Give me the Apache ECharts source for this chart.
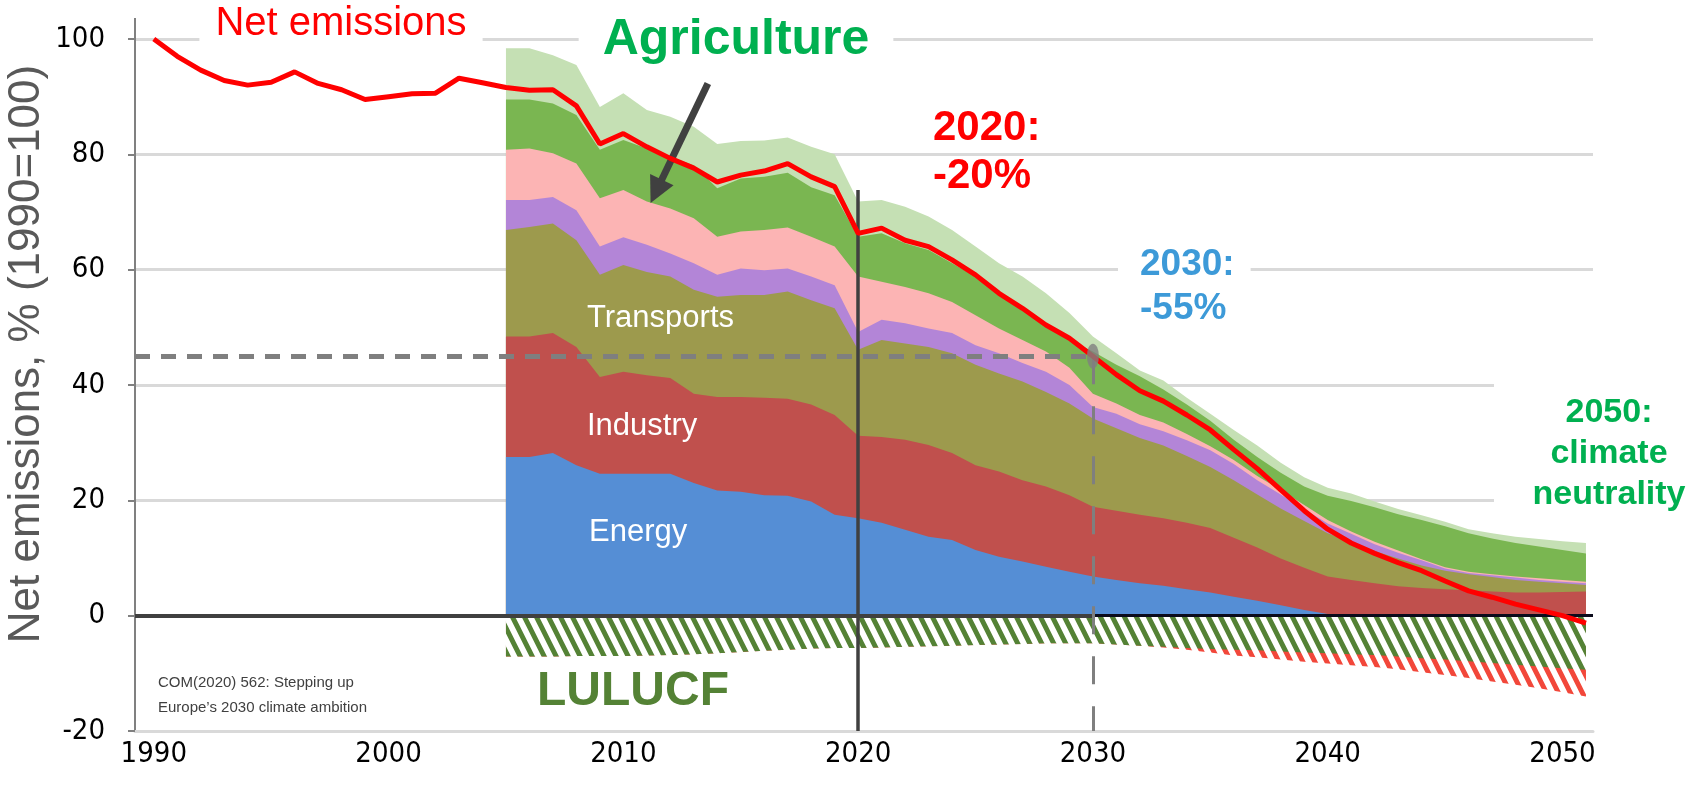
<!DOCTYPE html>
<html>
<head>
<meta charset="utf-8">
<style>
  html, body { margin: 0; padding: 0; background: #fff; }
  #chart { width: 1691px; height: 802px; }
</style>
<script src="https://cdn.jsdelivr.net/npm/echarts@6/dist/echarts.min.js"></script>
</head>
<body>
<div id="chart"></div>
<script>
// ---------- DATA ----------

// net emissions, % of 1990
const netYears = [
  1990, 1991, 1992, 1993, 1994, 1995, 1996, 1997, 1998, 1999,
  2000, 2001, 2002, 2003, 2004, 2005, 2006, 2007, 2008, 2009,
  2010, 2011, 2012, 2013, 2014, 2015, 2016, 2017, 2018, 2019,
  2020, 2021, 2022, 2023, 2024, 2025, 2026, 2027, 2028, 2029,
  2030, 2031, 2032, 2033, 2034, 2035, 2036, 2037, 2038, 2039,
  2040, 2041, 2042, 2043, 2044, 2045, 2046, 2047, 2048, 2049,
  2050, 2051
];
const netEmissions = [
  100, 97.0, 94.6, 92.8, 92.0, 92.5, 94.3, 92.3, 91.2, 89.5,
  90.0, 90.5, 90.6, 93.2, 92.4, 91.6, 91.1, 91.2, 88.4, 81.8,
  83.6, 81.3, 79.3, 77.6, 75.2, 76.4, 77.1, 78.4, 76.1, 74.4,
  66.3, 67.2, 65.1, 64.0, 61.7, 59.1, 55.9, 53.3, 50.4, 48.1,
  45.0, 41.8, 39.0, 37.2, 34.8, 32.2, 28.8, 25.5, 21.8, 18.2,
  15.0, 12.6, 10.8, 9.2, 7.8, 6.0, 4.3, 3.2, 2.0, 1.0,
  0.0, -1.3
];

// sector stack, upper edge of each layer (cumulative)
const sectorYears = [
  2005, 2006, 2007, 2008, 2009, 2010, 2011, 2012, 2013, 2014,
  2015, 2016, 2017, 2018, 2019, 2020, 2021, 2022, 2023, 2024,
  2025, 2026, 2027, 2028, 2029, 2030, 2031, 2032, 2033, 2034,
  2035, 2036, 2037, 2038, 2039, 2040, 2041, 2042, 2043, 2044,
  2045, 2046, 2047, 2048, 2049, 2050, 2051
];
const energyTop = [
  27.5, 27.5, 28.2, 26.1, 24.6, 24.6, 24.6, 24.6, 23.0, 21.7,
  21.5, 20.9, 20.8, 19.8, 17.5, 16.9, 16.1, 14.9, 13.7, 13.1,
  11.4, 10.2, 9.4, 8.5, 7.6, 6.8, 6.2, 5.6, 5.2, 4.6,
  4.0, 3.3, 2.6, 1.8, 1.0, 0.3, 0.2, 0.2, 0.2, 0.2,
  0.2, 0.2, 0.2, 0.2, 0.2, 0.2, 0.2
];
const industryTop = [
  48.4, 48.4, 49.0, 46.6, 41.4, 42.3, 41.7, 41.2, 38.5, 37.9,
  37.9, 37.8, 37.6, 36.6, 34.8, 31.2, 31.0, 30.5, 29.6, 28.2,
  26.1, 25.0, 23.5, 22.4, 20.9, 18.9, 18.2, 17.5, 16.9, 16.1,
  15.2, 13.5, 11.8, 9.9, 8.3, 6.8, 6.2, 5.6, 5.1, 4.8,
  4.6, 4.4, 4.2, 4.0, 4.0, 4.1, 4.2
];
const transportTop = [
  66.9, 67.4, 68.0, 65.1, 59.1, 60.8, 59.6, 58.8, 56.5, 55.3,
  55.6, 55.6, 56.2, 54.7, 53.3, 46.1, 47.8, 47.2, 46.6, 45.5,
  43.5, 42.0, 40.6, 38.8, 36.8, 34.2, 32.5, 30.8, 29.5, 27.7,
  25.8, 23.5, 21.0, 18.6, 16.4, 14.3, 12.8, 11.2, 9.9, 8.7,
  7.8, 7.2, 6.7, 6.2, 5.9, 5.6, 5.3
];
const residentialTop = [
  72.1, 72.1, 72.6, 70.3, 64.0, 65.6, 64.3, 62.8, 61.1, 59.1,
  60.2, 59.9, 60.2, 58.8, 57.3, 49.2, 51.3, 50.7, 49.8, 49.0,
  46.9, 45.5, 43.8, 42.3, 40.0, 36.2, 35.0, 33.2, 32.0, 30.4,
  28.7, 26.3, 23.5, 21.0, 18.5, 16.0, 14.2, 12.4, 10.9, 9.6,
  8.2, 7.4, 7.0, 6.6, 6.2, 5.9, 5.6
];
const tertiaryTop = [
  80.8, 81.0, 80.2, 78.4, 72.4, 73.8, 71.8, 70.6, 68.9, 65.7,
  66.6, 66.9, 67.3, 65.7, 64.0, 58.8, 57.9, 57.0, 55.9, 54.4,
  52.1, 49.8, 47.8, 45.8, 43.0, 38.5, 36.8, 34.8, 33.5, 31.5,
  29.4, 27.0, 24.2, 21.8, 19.2, 16.6, 14.6, 12.8, 11.3, 9.8,
  8.4, 7.6, 7.2, 6.8, 6.5, 6.2, 5.9
];
const agricultureTop = [
  89.5, 89.5, 88.8, 86.8, 80.8, 82.5, 81.0, 79.6, 78.1, 74.1,
  75.8, 76.1, 76.8, 74.3, 72.9, 65.7, 66.3, 64.6, 63.4, 61.1,
  58.8, 55.6, 53.0, 50.1, 47.8, 45.8, 43.5, 41.5, 39.2, 36.6,
  33.8, 30.5, 27.5, 24.8, 22.4, 20.8, 19.9, 18.8, 17.6, 16.6,
  15.5, 14.3, 13.4, 12.6, 12.0, 11.4, 10.8
];
const otherTop = [
  98.4, 98.4, 97.2, 95.5, 88.2, 90.6, 87.7, 86.5, 84.8, 81.8,
  82.3, 82.4, 82.9, 81.3, 80.0, 71.8, 72.1, 70.9, 69.2, 66.9,
  64.0, 61.1, 58.8, 55.9, 52.5, 48.4, 45.5, 42.5, 40.8, 37.8,
  35.0, 32.2, 29.5, 26.5, 24.0, 22.2, 21.2, 19.8, 18.5, 17.4,
  16.3, 15.0, 14.3, 13.7, 13.3, 12.9, 12.6
];

// LULUCF sink, lower edges (negative)
const lulucfBottom = [
  -7.1, -7.1, -7.1, -7.0, -7.0, -7.0, -6.9, -6.8, -6.7, -6.5,
  -6.3, -6.1, -5.9, -5.7, -5.6, -5.6, -5.5, -5.4, -5.3, -5.2,
  -5.1, -5.0, -4.9, -4.8, -4.8, -4.8, -5.0, -5.2, -5.4, -5.6,
  -5.8, -5.9, -6.0, -6.2, -6.4, -6.5, -6.7, -6.8, -7.1, -7.4,
  -7.6, -7.9, -8.2, -8.5, -8.8, -9.1, -9.4
];
const lulucfExtraBottom = [
  -7.1, -7.1, -7.1, -7.0, -7.0, -7.0, -6.9, -6.8, -6.7, -6.5,
  -6.3, -6.1, -5.9, -5.7, -5.6, -5.6, -5.5, -5.4, -5.3, -5.2,
  -5.1, -5.0, -4.9, -4.8, -4.8, -4.8, -5.0, -5.2, -5.5, -5.9,
  -6.4, -6.9, -7.2, -7.6, -8.0, -8.3, -8.6, -8.9, -9.3, -9.8,
  -10.3, -10.8, -11.4, -12.0, -12.6, -13.3, -14.0
];

const xTickLabels = [1990, 2000, 2010, 2020, 2030, 2040, 2050];
const target2030 = 45;


// ---------- HELPERS ----------

const SANS = '"Liberation Sans", Arial, sans-serif';
const NARROW = '"DejaVu Sans Condensed", "Liberation Sans", sans-serif';

// steep "\" stripes, 12px apart horizontally
function hatch(color) {
	const w = 12, h = 24;
	const c = document.createElement('canvas');
	c.width = w;
	c.height = h;
	const g = c.getContext('2d');
	g.fillStyle = '#ffffff';
	g.fillRect(0, 0, w, h);
	g.strokeStyle = color;
	g.lineWidth = 5;
	g.beginPath();
	for (let k = -1; k <= 1; k++) {
		g.moveTo(k * w - 2, -4);
		g.lineTo(k * w + 14, 28);
	}
	g.stroke();
	return c;
}

// every layer is its cumulative edge filled down (or up) to zero,
// drawn from the outermost layer inwards so the inner ones sit on top
function edgeSeries(name, edge, fill) {
	return {
		name: name,
		type: 'line',
		symbol: 'none',
		z: 2,
		silent: true,
		lineStyle: { width: 0 },
		areaStyle: { color: fill, opacity: 1, origin: 'auto' },
		data: sectorYears.map((y, i) => [y, edge[i]])
	};
}


// ---------- CHART ----------

const chart = echarts.init(document.getElementById('chart'));

let series = [
	edgeSeries('Other non-CO2', otherTop, '#c5e0b4'),
	edgeSeries('Agriculture', agricultureTop, '#7ab651'),
	edgeSeries('Tertiary', tertiaryTop, '#fcb4b4'),
	edgeSeries('Residential', residentialTop, '#b385d7'),
	edgeSeries('Transports', transportTop, '#9d9a4d'),
	edgeSeries('Industry', industryTop, '#c0504d'),
	edgeSeries('Energy', energyTop, '#558ed5'),
	edgeSeries('LULUCF extra', lulucfExtraBottom, { image: hatch('#f2473a'), repeat: 'repeat' }),
	edgeSeries('LULUCF', lulucfBottom, { image: hatch('#548235'), repeat: 'repeat' })
];

// zero line, under the red line
series.push({
	type: 'line',
	data: [],
	z: 4,
	silent: true,
	markLine: {
		silent: true,
		symbol: ['none', 'none'],
		label: { show: false },
		data: [
			[{ coord: [1989.2, 0], lineStyle: { color: '#404040', width: 4, type: 'solid' } }, { coord: [2030, 0] }],
			[{ coord: [2030, 0], lineStyle: { color: '#0b0b1c', width: 3, type: 'solid' } }, { coord: [2051.3, 0] }]
		]
	}
});

series.push({
	name: 'Net emissions',
	type: 'line',
	symbol: 'none',
	z: 6,
	lineStyle: { color: '#ff0000', width: 5 },
	data: netYears.map((y, i) => [y, netEmissions[i]])
});

// guides and the arrow
series.push({
	type: 'line',
	data: [],
	z: 8,
	silent: true,
	markLine: {
		silent: true,
		symbol: ['none', 'none'],
		label: { show: false },
		data: [
			[{ coord: [2020, 73.8], lineStyle: { color: '#404040', width: 3.5, type: 'solid' } }, { coord: [2020, -20] }],
			[{ coord: [1989.2, target2030], lineStyle: { color: '#7f7f7f', width: 5, type: [15, 11] } }, { coord: [2030, target2030] }],
			[{ coord: [2030, target2030], lineStyle: { color: '#7f7f7f', width: 3, type: [28, 22] } }, { coord: [2030, -20] }],
			[
				{ coord: [2013.6, 92.3], symbol: 'none', lineStyle: { color: '#404040', width: 7, type: 'solid' } },
				{ coord: [2011.4, 73.6], symbol: 'triangle', symbolSize: [26, 26] }
			]
		]
	}
});

series.push({
	type: 'scatter',
	z: 9,
	silent: true,
	symbol: 'circle',
	symbolSize: [12, 25],
	itemStyle: { color: '#808080' },
	data: [[2030, target2030]]
});

const option = {
	animation: false,
	backgroundColor: '#ffffff',
	grid: { left: 135, right: 98, top: 39, bottom: 71 },
	xAxis: {
		type: 'value',
		min: 1989.2,
		max: 2051.3,
		axisLine: { onZero: false, lineStyle: { color: '#d9d9d9', width: 3 } },
		axisTick: { show: false },
		splitLine: { show: false },
		axisLabel: {
			customValues: xTickLabels,
			formatter: v => String(v),
			fontFamily: NARROW,
			fontSize: 29,
			color: '#000000',
			margin: 9
		}
	},
	yAxis: {
		type: 'value',
		min: -20,
		max: 100,
		interval: 20,
		axisLine: { show: true, onZero: false, lineStyle: { color: '#808080', width: 2 } },
		axisTick: { show: true, length: 7, lineStyle: { color: '#808080', width: 2 } },
		axisLabel: { fontFamily: NARROW, fontSize: 29, color: '#000000', margin: 30 },
		splitLine: { lineStyle: { color: '#d9d9d9', width: 3 } }
	},
	graphic: [
		// the y axis line runs a little above 100
		{
			type: 'line', z: 100,
			shape: { x1: 135, y1: 18, x2: 135, y2: 40 },
			style: { stroke: '#808080', lineWidth: 2 }
		},
		{
			type: 'text', x: 27, y: 354, rotation: Math.PI / 2, z: 100,
			style: { text: 'Net emissions, % (1990=100)', align: 'center', verticalAlign: 'middle',
				font: '44px ' + SANS, fill: '#595959' }
		},
		{
			type: 'text', x: 341, y: 24, z: 100,
			style: { text: 'Net emissions', align: 'center', verticalAlign: 'middle',
				font: '40px ' + SANS, fill: '#ff0000', backgroundColor: '#ffffff', padding: [2, 16] }
		},
		{
			type: 'text', x: 736, y: 40, z: 100,
			style: { text: 'Agriculture', align: 'center', verticalAlign: 'middle',
				font: 'bold 50px ' + SANS, fill: '#00b050', backgroundColor: '#ffffff', padding: [2, 24] }
		},
		{
			type: 'text', x: 933, y: 104, z: 100,
			style: { text: '2020:\n-20%', align: 'left', verticalAlign: 'top', lineHeight: 48,
				font: 'bold 42px ' + SANS, fill: '#ff0000' }
		},
		{
			type: 'text', x: 1118, y: 243, z: 100,
			style: { text: '2030:\n-55%', align: 'left', verticalAlign: 'top', lineHeight: 44,
				font: 'bold 37px ' + SANS, fill: '#3d9ad8', backgroundColor: '#ffffff', padding: [0, 16, 0, 22] }
		},
		{
			type: 'rect', z: 99,
			shape: { x: 1494, y: 372, width: 110, height: 140 },
			style: { fill: '#ffffff' }
		},
		{
			type: 'text', x: 1609, y: 392, z: 100,
			style: { text: '2050:\nclimate\nneutrality', align: 'center', verticalAlign: 'top', lineHeight: 41,
				font: 'bold 34px ' + SANS, fill: '#00b050' }
		},
		{
			type: 'text', x: 587, y: 318, z: 100,
			style: { text: 'Transports', align: 'left', verticalAlign: 'middle', font: '31px ' + SANS, fill: '#ffffff' }
		},
		{
			type: 'text', x: 587, y: 426, z: 100,
			style: { text: 'Industry', align: 'left', verticalAlign: 'middle', font: '31px ' + SANS, fill: '#ffffff' }
		},
		{
			type: 'text', x: 589, y: 532, z: 100,
			style: { text: 'Energy', align: 'left', verticalAlign: 'middle', font: '31px ' + SANS, fill: '#ffffff' }
		},
		{
			type: 'text', x: 537, y: 692, z: 100,
			style: { text: 'LULUCF', align: 'left', verticalAlign: 'middle', font: 'bold 48px ' + SANS, fill: '#548235' }
		},
		{
			type: 'text', x: 158, y: 670, z: 100,
			style: { text: 'COM(2020) 562: Stepping up\nEurope\u2019s 2030 climate ambition', align: 'left',
				verticalAlign: 'top', lineHeight: 25, font: '15px ' + SANS, fill: '#404040' }
		}
	],
	series: series
};

chart.setOption(option);
</script>
</body>
</html>
